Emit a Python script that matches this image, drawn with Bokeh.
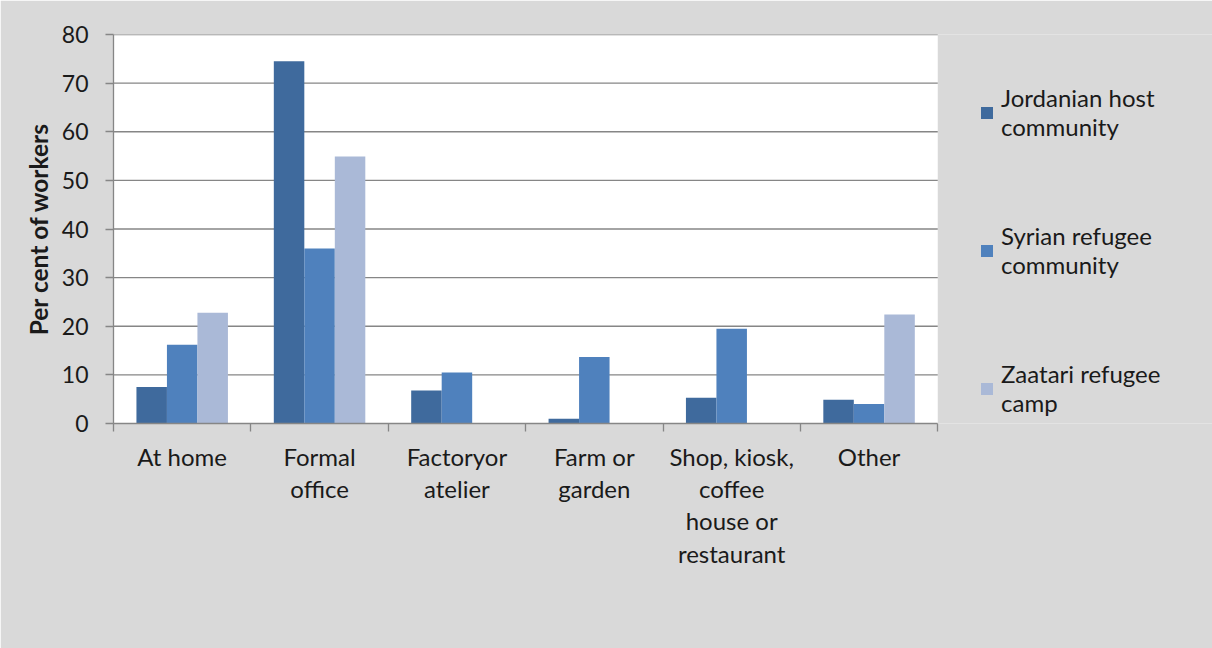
from bokeh.plotting import figure
from bokeh.models import (Range1d, LinearAxis, FixedTicker, Legend, LegendItem,
                          ColumnDataSource, BoxAnnotation)
from bokeh.transform import dodge
from bokeh.embed import file_html
from bokeh.resources import INLINE

categories = ["At home", "Formal office", "Factoryor atelier", "Farm or garden",
              "Shop, kiosk, coffee house or restaurant", "Other"]
tick_labels = ["At home", "Formal\noffice", "Factoryor\natelier", "Farm or\ngarden",
               "Shop, kiosk,\ncoffee\nhouse or\nrestaurant", "Other"]
legend_labels = ["Jordanian host\ncommunity", "Syrian refugee\ncommunity", "Zaatari refugee\ncamp"]
jordanian = [7.5, 74.5, 6.8, 1.0, 5.3, 4.9]
syrian = [16.2, 36.0, 10.5, 13.7, 19.5, 4.0]
zaatari = [22.8, 54.9, 0.0, 0.0, 0.0, 22.4]
y_ticks = [0, 10, 20, 30, 40, 50, 60, 70, 80]
y_label = "Per cent of workers"
colors = ["#3f6a9d", "#4f81bd", "#aab9d7"]

FONT = "Lato"
GRAY = "#868686"
BG = "#d9d9d9"
FS = "24px"
TXT = "#1a1a1a"

n = len(categories)
centers = [i + 0.5 for i in range(n)]          # category slot centres on the axis scale
boundaries = list(range(n + 1))
ymin, ymax = y_ticks[0], y_ticks[-1]

# frame extends to the right edge so the legend (inside the frame) is not clipped;
# the white plot area covers only the category slots
p = figure(width=1212, height=648,
           x_range=Range1d(0, n + 2), y_range=Range1d(ymin, ymax),
           output_backend="svg", toolbar_location=None, x_axis_location=None,
           min_border_left=113, min_border_right=0, min_border_top=34, min_border_bottom=225,
           background_fill_color=BG, border_fill_color=BG,
           outline_line_color=None)

p.add_layout(BoxAnnotation(left=0, right=n, bottom=ymin, top=ymax,
                           fill_color="white", fill_alpha=1, line_color=None,
                           level="underlay"))

p.xgrid.visible = False
p.ygrid.visible = False
grid_src = ColumnDataSource(dict(y=y_ticks[1:]))
p.segment(x0=0, x1=n, y0="y", y1="y", source=grid_src, line_color=GRAY, line_width=1.3)

src = ColumnDataSource(dict(pos=centers, cat=categories, j=jordanian, s=syrian, z=zaatari))
bw = 0.222
r1 = p.vbar(x=dodge("pos", -bw), top="j", width=bw, source=src,
            fill_color=colors[0], line_color=None)
r2 = p.vbar(x=dodge("pos", 0), top="s", width=bw, source=src,
            fill_color=colors[1], line_color=None)
r3 = p.vbar(x=dodge("pos", bw), top="z", width=bw, source=src,
            fill_color=colors[2], line_color=None)

# y axis
ya = p.yaxis[0]
ya.ticker = FixedTicker(ticks=y_ticks)
ya.axis_line_color = GRAY
ya.axis_line_width = 1.3
ya.major_tick_line_color = GRAY
ya.major_tick_line_width = 1.3
ya.major_tick_out = 8
ya.major_tick_in = 0
ya.minor_tick_line_color = None
ya.major_label_text_font = FONT
ya.major_label_text_font_size = "23px"
ya.major_label_text_color = TXT
ya.major_label_standoff = 17
ya.axis_label = y_label
ya.axis_label_text_font = FONT
ya.axis_label_text_font_size = "24.5px"
ya.axis_label_text_font_style = "bold"
ya.axis_label_text_color = TXT
ya.axis_label_standoff = 6

# x axis: labels at category centres, tick marks at category boundaries
xa = LinearAxis(ticker=FixedTicker(ticks=centers, minor_ticks=boundaries),
                major_label_overrides={c: lbl for c, lbl in zip(centers, tick_labels)},
                bounds=(0, n))
xa.axis_line_color = GRAY
xa.axis_line_width = 1.3
xa.major_tick_line_color = None
xa.major_tick_out = 8
xa.major_tick_in = 0
xa.minor_tick_line_color = GRAY
xa.minor_tick_line_width = 1.3
xa.minor_tick_out = 8
xa.minor_tick_in = 0
xa.major_label_text_font = FONT
xa.major_label_text_font_size = FS
xa.major_label_text_color = TXT
xa.major_label_text_line_height = 1.12
xa.major_label_standoff = 10
p.add_layout(xa, "below")

legend = Legend(items=[LegendItem(label=legend_labels[i], renderers=[r])
                       for i, r in enumerate([r1, r2, r3])],
                location=(866, 6), orientation="vertical",
                glyph_width=15, glyph_height=15, label_standoff=7,
                spacing=80, padding=0, margin=0,
                border_line_color=None, background_fill_alpha=0,
                label_text_font=FONT, label_text_font_size=FS,
                label_text_color=TXT, label_text_line_height=1.12)
p.add_layout(legend)

open("out.html", "w").write(file_html(p, INLINE))
